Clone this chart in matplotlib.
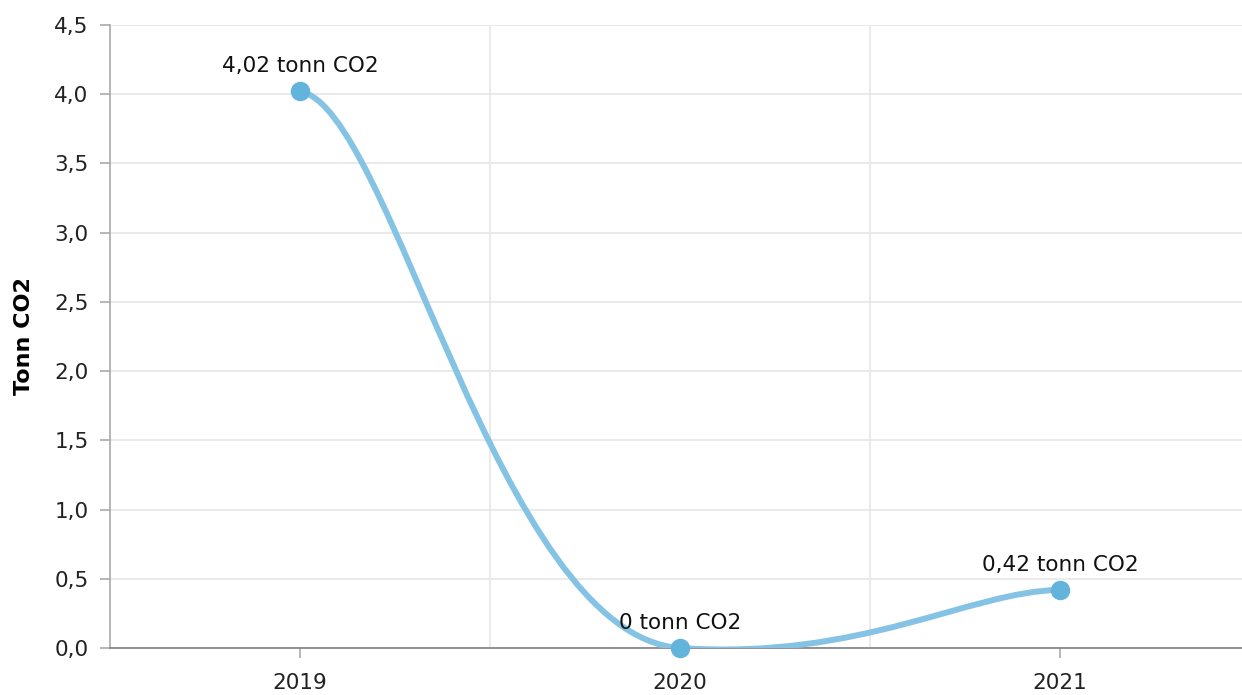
import numpy as np
import matplotlib
matplotlib.use("Agg")
import matplotlib.pyplot as plt
from matplotlib.path import Path
from matplotlib.patches import PathPatch
from matplotlib.ticker import FuncFormatter, MultipleLocator

years = ["2019", "2020", "2021"]
values = [4.02, 0.0, 0.42]
labels = ["4,02 tonn CO2", "0 tonn CO2", "0,42 tonn CO2"]

plt.rcParams['font.family'] = ['DejaVu Sans']

LINE = '#84c3e3'
DOT = '#62b4dc'
GRID = '#e6e6e6'


def tension_path(xs, ys, kx=0.24, ky=0.025):
    # catmull-rom like smoothing with separate x / y tension
    n = len(xs)
    verts = [(xs[0], ys[0])]
    codes = [Path.MOVETO]
    for i in range(n - 1):
        i0 = max(i - 1, 0)
        i3 = min(i + 2, n - 1)
        ax_ = xs[i] + kx * (xs[i + 1] - xs[i0])
        ay_ = ys[i] + ky * (ys[i + 1] - ys[i0])
        bx_ = xs[i + 1] - kx * (xs[i3] - xs[i])
        by_ = ys[i + 1] - ky * (ys[i3] - ys[i])
        verts += [(ax_, ay_), (bx_, by_), (xs[i + 1], ys[i + 1])]
        codes += [Path.CURVE4] * 3
    return Path(verts, codes)


fig = plt.figure(figsize=(12.42, 6.95), dpi=100)
ax = fig.add_axes([110 / 1242, 1 - 648 / 695, 1132 / 1242, (648 - 25) / 695])

x = np.arange(len(years))
ax.set_xlim(-0.5, -0.5 + 1132 / 380)
ax.set_ylim(0, 4.5)

ax.add_patch(PathPatch(tension_path(list(x), values), fill=False, edgecolor=LINE,
                       lw=4.3, capstyle='round', joinstyle='round', zorder=3))
ax.plot(x, values, 'o', ms=13, color=DOT, zorder=4, clip_on=False)

for xi, v, lab in zip(x, values, labels):
    ax.annotate(lab, (xi, v), xytext=(0, 18), textcoords='offset points',
                ha='center', va='center', fontsize=15.5, color='#111111', zorder=5)

ax.yaxis.set_major_locator(MultipleLocator(0.5))
ax.yaxis.set_major_formatter(FuncFormatter(lambda v, p: f"{v:.1f}".replace('.', ',')))
ax.set_xticks(x)
ax.set_xticklabels(years)
ax.set_xticks([0.5, 1.5], minor=True)

ax.grid(True, axis='y', which='major', color=GRID, lw=1.2)
ax.grid(True, axis='x', which='minor', color=GRID, lw=1.2)
ax.set_axisbelow(True)

for s in ['top', 'right']:
    ax.spines[s].set_visible(False)
ax.spines['left'].set_color('#aaaaaa')
ax.spines['bottom'].set_color('#808080')
ax.spines['left'].set_linewidth(1.2)
ax.spines['bottom'].set_linewidth(1.2)

ax.tick_params(axis='y', length=7.5, width=1.2, color='#aaaaaa', labelsize=15.5, pad=8,
               labelcolor='#222222')
ax.tick_params(axis='x', which='major', length=7, width=1.2, color='#aaaaaa', labelsize=15.5,
               pad=11, labelcolor='#222222')
ax.tick_params(axis='x', which='minor', length=0)

ax.set_ylabel("Tonn CO2", fontsize=16, fontweight='bold')
ax.yaxis.set_label_coords(-(110 - 34) / 1132, 0.5)

fig.savefig("out.png", dpi=100)
